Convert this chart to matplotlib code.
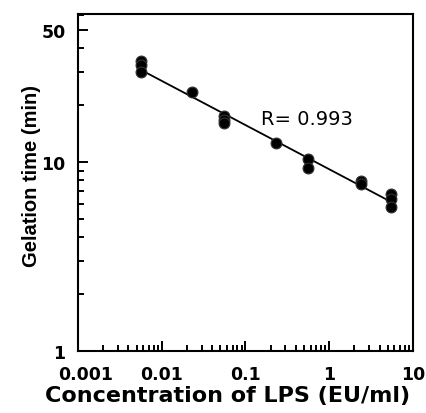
import numpy as np
import matplotlib
matplotlib.use("Agg")
import matplotlib.pyplot as plt
from matplotlib.ticker import LogLocator, FixedLocator, NullFormatter, FixedFormatter
from matplotlib.font_manager import FontProperties
import matplotlib.transforms as mtransforms

plt.rcParams['font.family'] = ['DejaVu Sans']

# Data
conc = [0.0056, 0.0056, 0.0056, 0.023, 0.055, 0.055, 0.055, 0.23,
        0.55, 0.55, 2.4, 2.4, 5.5, 5.5, 5.5]
gel_time = [34.0, 32.5, 30.0, 23.5, 17.5, 16.7, 16.1, 12.6,
            10.4, 9.3, 7.9, 7.6, 6.8, 6.4, 5.8]
x_ticks = [0.001, 0.01, 0.1, 1, 10]
x_ticklabels = ['0.001', '0.01', '0.1', '1', '10']
y_ticks = [1, 10, 50]
y_ticklabels = ['1', '10', '50']
r_text = 'R= 0.993'

fig = plt.figure(figsize=(4.27, 4.14), dpi=100)
ax = fig.add_axes([78/427, 1-352/414, (413-78)/427, (352-15)/414])

# fit line in log-log space
lx = np.log10(conc)
ly = np.log10(gel_time)
slope, icpt = np.polyfit(lx, ly, 1)
xf = np.array([min(conc), max(conc)])
ax.plot(xf, 10**(icpt + slope*np.log10(xf)), color='black', lw=1.3, zorder=2)

ax.plot(conc, gel_time, 'o', ms=7.8, mfc='black', mec='#333333', mew=0.8, zorder=3)

ax.set_xscale('log')
ax.set_yscale('log')
ax.set_xlim(0.001, 10)
ax.set_ylim(1, 60.5)

ax.xaxis.set_major_locator(FixedLocator(x_ticks))
ax.xaxis.set_major_formatter(FixedFormatter(x_ticklabels))
ax.xaxis.set_minor_locator(LogLocator(base=10, subs=np.arange(2, 10)))
ax.xaxis.set_minor_formatter(NullFormatter())
ax.yaxis.set_major_locator(FixedLocator(y_ticks))
ax.yaxis.set_major_formatter(FixedFormatter(y_ticklabels))
ax.yaxis.set_minor_locator(LogLocator(base=10, subs=np.arange(2, 10)))
ax.yaxis.set_minor_formatter(NullFormatter())

ax.tick_params(which='both', direction='in', top=False, right=False, width=1.4)
ax.tick_params(which='major', length=7)
ax.tick_params(which='minor', length=4.5)
ax.tick_params(axis='x', which='major', pad=10, labelsize=12.5)
ax.tick_params(axis='y', which='major', pad=9, labelsize=12.5)
for lab in ax.get_xticklabels() + ax.get_yticklabels():
    lab.set_fontweight('bold')

# shift first x label to the right slightly
first = ax.get_xticklabels()[0]
first.set_transform(first.get_transform() + mtransforms.ScaledTranslation(8/100, 0, fig.dpi_scale_trans))

for s in ax.spines.values():
    s.set_linewidth(1.5)

ax.set_xlabel('Concentration of LPS (EU/ml)', fontsize=16, fontweight='bold', labelpad=1.5)
ax.xaxis.label.set_x(0.445)
ylab_fp = FontProperties(family='Liberation Sans', weight='bold', size=14.5)
ax.set_ylabel('Gelation time (min)', fontproperties=ylab_fp, labelpad=0.5)
ax.yaxis.label.set_y(0.522)

ax.text(0.155, 16.9, r_text, fontsize=14, va='center', ha='left')

fig.savefig('out.png', dpi=100)
